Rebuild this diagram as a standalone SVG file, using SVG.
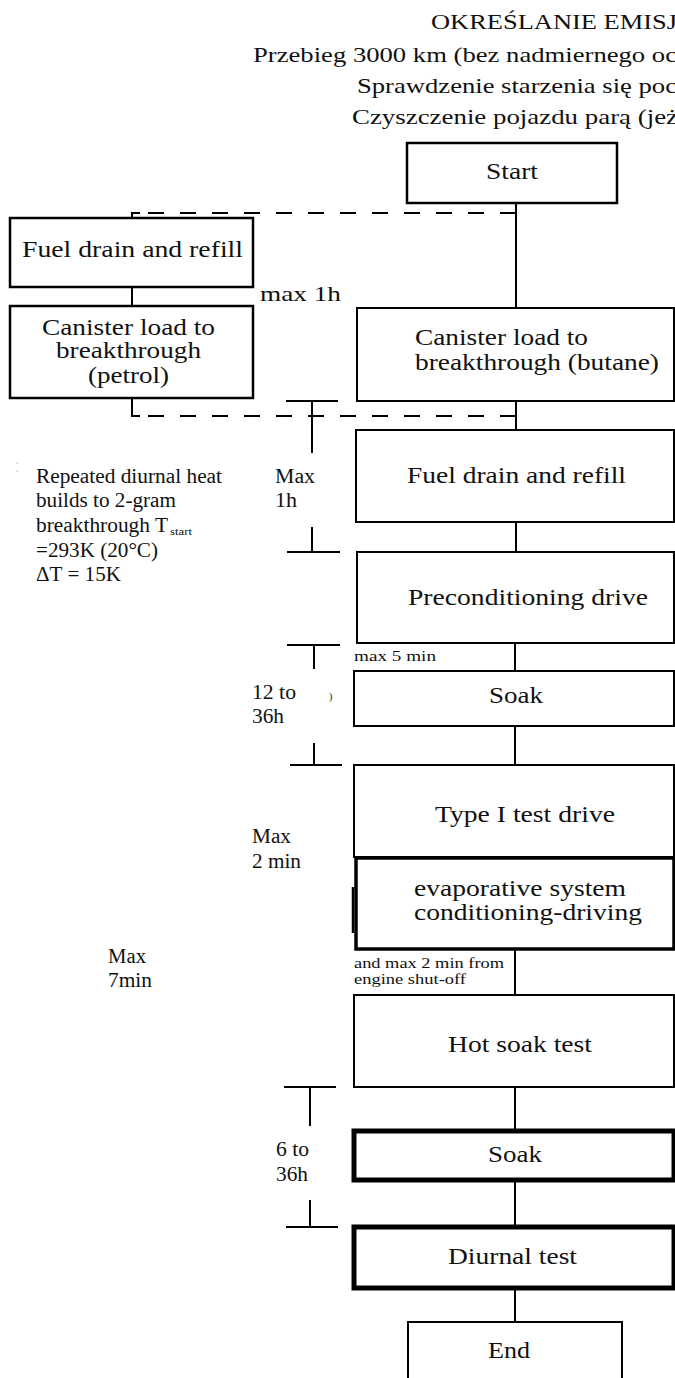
<svg xmlns="http://www.w3.org/2000/svg" width="675" height="1378" viewBox="0 0 675 1378">
<style>
.bg{fill:#fff}
.box{fill:#fff;stroke:#000;stroke-width:2}
.b25{stroke-width:2.5}
.b35{stroke-width:3.5}
.b4{stroke-width:5}
.ln{stroke:#000;stroke-width:2;fill:none}
.dash{stroke:#000;stroke-width:2;fill:none;stroke-dasharray:16 16}
.t{font-family:"Liberation Serif","Times New Roman",serif;fill:#111}
.n{font-size:23px}
.l{font-size:20px}
.s{font-size:14px}
.h{font-size:21px}
</style>
<rect class="bg" x="0" y="0" width="675" height="1378"/>
<g id="title" class="t h">
<text x="431" y="29" textLength="246" lengthAdjust="spacingAndGlyphs">OKREŚLANIE EMISJ</text>
<text x="253" y="62" textLength="424" lengthAdjust="spacingAndGlyphs">Przebieg 3000 km (bez nadmiernego oc</text>
<text x="357" y="93" textLength="320" lengthAdjust="spacingAndGlyphs">Sprawdzenie starzenia się poc</text>
<text x="352" y="124" textLength="326" lengthAdjust="spacingAndGlyphs">Czyszczenie pojazdu parą (jeż</text>
</g>
<g id="connectors">
<path class="ln" d="M516 203V308"/>
<path class="ln" d="M132 218V213H140"/>
<path class="dash" d="M148 213H516"/>
<path class="ln" d="M132 287V306"/>
<path class="ln" d="M132 398V416H140"/>
<path class="dash" d="M148 416H516"/>
<path class="ln" d="M516 401V430"/>
<path class="ln" d="M516 522V552"/>
<path class="ln" d="M515 643V671"/>
<path class="ln" d="M515 726V765"/>
<path class="ln" d="M515 949V995"/>
<path class="ln" d="M515 1087V1131"/>
<path class="ln" d="M515 1180V1227"/>
<path class="ln" d="M515 1288V1322"/>
</g>
<g id="dimensions">
<path class="ln" d="M286 401H338M312 401V453"/>
<path class="ln" d="M312 527V552M287 552H340"/>
<path class="ln" d="M287 645H340M314 645V669"/>
<path class="ln" d="M314 743V765M290 765H342"/>
<path class="ln" d="M284 1087H336M310 1087V1126"/>
<path class="ln" d="M310 1200V1227M286 1227H338"/>
<path d="M353 887V933" stroke="#000" stroke-width="2.5"/>
<circle cx="17" cy="463" r="0.7" fill="#aaa"/>
<circle cx="17" cy="471" r="0.7" fill="#aaa"/>
</g>
<g id="start"><rect class="box b25" x="407" y="143" width="210" height="60"/><text class="t n" x="486" y="179" textLength="52" lengthAdjust="spacingAndGlyphs">Start</text></g>
<g id="fuel-left"><rect class="box b25" x="10" y="218" width="243" height="69"/><text class="t n" x="22" y="257" textLength="221" lengthAdjust="spacingAndGlyphs">Fuel drain and refill</text></g>
<g id="canister-petrol"><rect class="box b25" x="10" y="306" width="243" height="92"/>
<text class="t n" x="42" y="335" textLength="173" lengthAdjust="spacingAndGlyphs">Canister load to</text>
<text class="t n" x="56" y="358" textLength="145" lengthAdjust="spacingAndGlyphs">breakthrough</text>
<text class="t n" x="88" y="383" textLength="81" lengthAdjust="spacingAndGlyphs">(petrol)</text></g>
<g id="canister-butane"><rect class="box" x="357" y="308" width="317" height="93"/>
<text class="t n" x="415" y="345" textLength="173" lengthAdjust="spacingAndGlyphs">Canister load to</text>
<text class="t n" x="415" y="370" textLength="244" lengthAdjust="spacingAndGlyphs">breakthrough (butane)</text></g>
<g id="fuel-right"><rect class="box" x="356" y="430" width="318" height="92"/><text class="t n" x="407" y="483" textLength="219" lengthAdjust="spacingAndGlyphs">Fuel drain and refill</text></g>
<g id="precond"><rect class="box" x="357" y="552" width="317" height="91"/><text class="t n" x="408" y="605" textLength="240" lengthAdjust="spacingAndGlyphs">Preconditioning drive</text></g>
<g id="soak1"><rect class="box" x="354" y="671" width="320" height="55"/><text class="t n" x="489" y="703" textLength="54" lengthAdjust="spacingAndGlyphs">Soak</text></g>
<g id="type1"><rect class="box" x="354" y="765" width="320" height="92"/><text class="t n" x="435" y="822" textLength="180" lengthAdjust="spacingAndGlyphs">Type I test drive</text></g>
<g id="evap"><rect class="box b35" x="356" y="858" width="318" height="91"/>
<text class="t n" x="414" y="896" textLength="212" lengthAdjust="spacingAndGlyphs">evaporative system</text>
<text class="t n" x="414" y="920" textLength="228" lengthAdjust="spacingAndGlyphs">conditioning-driving</text></g>
<g id="hotsoak"><rect class="box" x="354" y="995" width="320" height="92"/><text class="t n" x="448" y="1052" textLength="144" lengthAdjust="spacingAndGlyphs">Hot soak test</text></g>
<g id="soak2"><rect class="box b4" x="354" y="1131" width="320" height="49"/><text class="t n" x="488" y="1162" textLength="54" lengthAdjust="spacingAndGlyphs">Soak</text></g>
<g id="diurnal"><rect class="box b4" x="354" y="1227" width="320" height="61"/><text class="t n" x="448" y="1264" textLength="129" lengthAdjust="spacingAndGlyphs">Diurnal test</text></g>
<g id="end"><rect class="box" x="408" y="1322" width="214" height="70"/><text class="t n" x="488" y="1358" textLength="42" lengthAdjust="spacingAndGlyphs">End</text></g>
<g id="labels" class="t l">
<text class="h" x="260" y="301" textLength="81" lengthAdjust="spacingAndGlyphs">max 1h</text>
<text x="36" y="483" textLength="186" lengthAdjust="spacingAndGlyphs">Repeated diurnal heat</text>
<text x="36" y="507" textLength="140" lengthAdjust="spacingAndGlyphs">builds to 2-gram</text>
<text x="36" y="532" textLength="132" lengthAdjust="spacingAndGlyphs">breakthrough T</text>
<text x="170" y="535" style="font-size:11px" textLength="22" lengthAdjust="spacingAndGlyphs">start</text>
<text x="36" y="557" textLength="122" lengthAdjust="spacingAndGlyphs">=293K (20°C)</text>
<text x="36" y="581" textLength="85" lengthAdjust="spacingAndGlyphs">ΔT = 15K</text>
<text x="275" y="483" textLength="40" lengthAdjust="spacingAndGlyphs">Max</text>
<text x="275" y="507" textLength="22" lengthAdjust="spacingAndGlyphs">1h</text>
<text class="s" x="354" y="661" textLength="82" lengthAdjust="spacingAndGlyphs">max 5 min</text>
<text x="252" y="699" textLength="44" lengthAdjust="spacingAndGlyphs">12 to</text>
<text x="252" y="723" textLength="32" lengthAdjust="spacingAndGlyphs">36h</text>
<text x="329" y="700" style="font-size:10px">)</text>
<text x="252" y="843" textLength="39" lengthAdjust="spacingAndGlyphs">Max</text>
<text x="252" y="868" textLength="49" lengthAdjust="spacingAndGlyphs">2 min</text>
<text x="108" y="963" textLength="38" lengthAdjust="spacingAndGlyphs">Max</text>
<text x="108" y="987" textLength="44" lengthAdjust="spacingAndGlyphs">7min</text>
<text class="s" x="354" y="968" textLength="150" lengthAdjust="spacingAndGlyphs">and max 2 min from</text>
<text class="s" x="354" y="984" textLength="112" lengthAdjust="spacingAndGlyphs">engine shut-off</text>
<text x="276" y="1156" textLength="33" lengthAdjust="spacingAndGlyphs">6 to</text>
<text x="276" y="1181" textLength="32" lengthAdjust="spacingAndGlyphs">36h</text>
</g>
</svg>
